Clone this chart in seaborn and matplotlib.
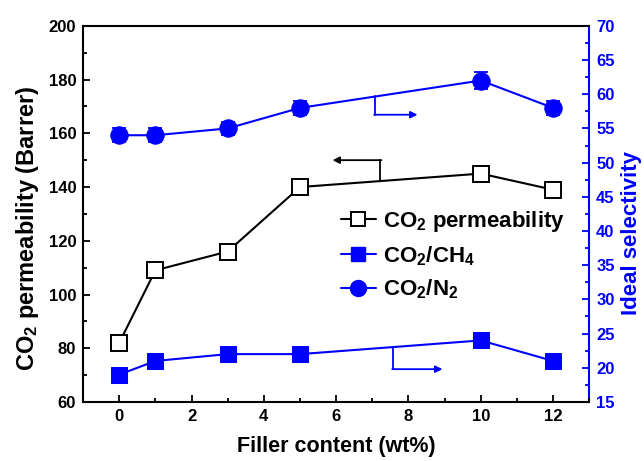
import matplotlib
matplotlib.use("Agg")
import matplotlib.pyplot as plt
from matplotlib.ticker import MultipleLocator
from matplotlib.lines import Line2D
import seaborn as sns
import pandas as pd

# Filler loading and measured properties
filler = [0, 1, 3, 5, 10, 12]
co2_perm = [82, 109, 116, 140, 145, 139]
co2_perm_err = [2, 2, 2, 2.5, 3, 2.5]
sel_ch4 = [19, 21, 22, 22, 24, 21]
sel_ch4_err = [0.6, 0.6, 0.6, 0.6, 0.7, 0.6]
sel_n2 = [54, 54, 55, 58, 62, 58]
sel_n2_err = [1.0, 1.0, 1.0, 1.0, 1.2, 1.0]

sns.set_theme(style="ticks")
plt.rcParams["font.family"] = ["Liberation Sans", "DejaVu Sans"]
plt.rcParams["font.weight"] = "bold"
plt.rcParams["text.color"] = "black"
plt.rcParams["axes.labelcolor"] = "black"
plt.rcParams["xtick.color"] = "black"
plt.rcParams["ytick.color"] = "black"
plt.rcParams["mathtext.fontset"] = "custom"
plt.rcParams["mathtext.rm"] = "Liberation Sans:bold"
plt.rcParams["mathtext.it"] = "Liberation Sans:bold"
plt.rcParams["mathtext.bf"] = "Liberation Sans:bold"
plt.rcParams["mathtext.default"] = "rm"

BLUE = "#0000ff"

df_perm = pd.DataFrame({"filler": filler, "perm": co2_perm})
df_sel = pd.DataFrame({"filler": filler, "ch4": sel_ch4, "n2": sel_n2})

fig = plt.figure(figsize=(6.44, 4.61), dpi=100)
ax = fig.add_axes([0.129, 0.128, 0.786, 0.816])
ax2 = ax.twinx()

# CO2 permeability (left axis)
ax.errorbar(filler, co2_perm, yerr=co2_perm_err, fmt="none", ecolor="black",
            elinewidth=1.3, capsize=5, capthick=1.3, zorder=2)
sns.lineplot(data=df_perm, x="filler", y="perm", ax=ax, color="black",
             linewidth=1.5, marker="s", markersize=11, markerfacecolor="white",
             markeredgecolor="black", markeredgewidth=1.4, zorder=3)

# Ideal selectivities (right axis)
ax2.errorbar(filler, sel_ch4, yerr=sel_ch4_err, fmt="none", ecolor=BLUE,
             elinewidth=1.3, capsize=5, capthick=1.3, zorder=2)
sns.lineplot(data=df_sel, x="filler", y="ch4", ax=ax2, color=BLUE,
             linewidth=1.5, marker="s", markersize=11, markeredgecolor=BLUE,
             zorder=3)
ax2.errorbar(filler, sel_n2, yerr=sel_n2_err, fmt="none", ecolor=BLUE,
             elinewidth=1.3, capsize=5, capthick=1.3, zorder=2)
sns.lineplot(data=df_sel, x="filler", y="n2", ax=ax2, color=BLUE,
             linewidth=1.5, marker="o", markersize=12.5, markeredgecolor=BLUE,
             zorder=3)

# Axis ranges and ticks
ax.set_xlim(-1, 13)
ax.set_ylim(60, 200)
ax2.set_ylim(15, 70)
ax.xaxis.set_major_locator(MultipleLocator(2))
ax.xaxis.set_minor_locator(MultipleLocator(1))
ax.yaxis.set_major_locator(MultipleLocator(20))
ax.yaxis.set_minor_locator(MultipleLocator(10))
ax2.yaxis.set_major_locator(MultipleLocator(5))
ax2.yaxis.set_minor_locator(MultipleLocator(2.5))

ax.tick_params(axis="both", which="both", direction="in", top=False,
               labelsize=12, width=1.3, colors="black", pad=5)
ax.tick_params(which="major", length=5)
ax.tick_params(which="minor", length=3)
ax2.tick_params(axis="y", which="both", direction="in", colors=BLUE,
                labelsize=12, width=1.3, pad=5)
ax2.tick_params(which="major", length=5)
ax2.tick_params(which="minor", length=3)
for lab in ax.get_xticklabels() + ax.get_yticklabels() + ax2.get_yticklabels():
    lab.set_fontweight("bold")

for side in ["left", "bottom", "top"]:
    ax.spines[side].set_linewidth(1.5)
    ax.spines[side].set_color("black")
ax.spines["right"].set_visible(False)
ax2.spines["right"].set_color(BLUE)
ax2.spines["right"].set_linewidth(1.5)
ax2.spines["left"].set_visible(False)
ax2.spines["top"].set_visible(False)
ax2.spines["bottom"].set_visible(False)

ax.set_xlabel("Filler content (wt%)", fontsize=15.5, fontweight="bold",
              color="black", labelpad=9)
ax.set_ylabel("CO$_2$ permeability (Barrer)", fontsize=17, fontweight="bold",
              color="black")
ax.yaxis.set_label_coords(-0.083, 0.463)
ax2.set_ylabel("Ideal selectivity", fontsize=16, fontweight="bold", color=BLUE)
ax2.yaxis.set_label_coords(1.062, 0.449)

# Axis-indicator arrows
ax.plot([7.22, 7.22], [142.2, 150.0], color="black", lw=1.3)
ax.annotate("", xy=(5.9, 150.0), xytext=(7.25, 150.0),
            arrowprops=dict(arrowstyle="-|>", color="black", lw=1.3,
                            mutation_scale=10, shrinkA=0, shrinkB=0))
ax2.plot([7.08, 7.08], [59.7, 57.0], color=BLUE, lw=1.3)
ax2.annotate("", xy=(8.25, 57.0), xytext=(7.05, 57.0),
             arrowprops=dict(arrowstyle="-|>", color=BLUE, lw=1.3,
                             mutation_scale=10, shrinkA=0, shrinkB=0))
ax2.plot([7.58, 7.58], [23.0, 19.8], color=BLUE, lw=1.3)
ax2.annotate("", xy=(8.94, 19.8), xytext=(7.55, 19.8),
             arrowprops=dict(arrowstyle="-|>", color=BLUE, lw=1.3,
                             mutation_scale=10, shrinkA=0, shrinkB=0))

ax.set_zorder(ax2.get_zorder() + 1)
ax.patch.set_visible(False)

handles = [
    Line2D([], [], color="black", lw=1.5, marker="s", markersize=10,
           markerfacecolor="white", markeredgecolor="black", markeredgewidth=1.4),
    Line2D([], [], color=BLUE, lw=1.5, marker="s", markersize=10),
    Line2D([], [], color=BLUE, lw=1.5, marker="o", markersize=11.5),
]
labels = ["CO$_2$ permeability", "CO$_2$/CH$_4$", "CO$_2$/N$_2$"]
leg = ax.legend(handles, labels, loc="upper left", bbox_to_anchor=(0.498, 0.59),
                bbox_transform=fig.transFigure, frameon=False,
                handlelength=1.6, handletextpad=0.3, labelspacing=0.45,
                prop={"weight": "bold", "size": 16})
for t in leg.get_texts():
    t.set_color("black")

fig.savefig("out.png", dpi=100)
